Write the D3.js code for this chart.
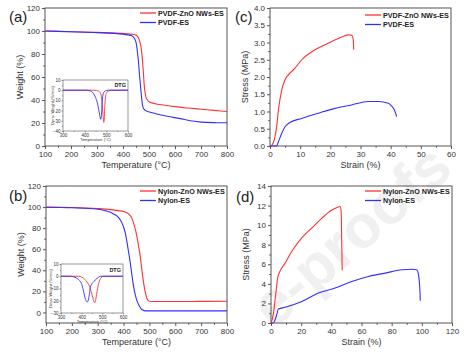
<!DOCTYPE html>
<html>
<head>
<meta charset="utf-8">
<script src="https://cdn.jsdelivr.net/npm/d3@7"></script>
<style>
  body { margin: 0; background: #fff; }
  svg { font-family: "Liberation Sans", Arial, sans-serif; }
</style>
</head>
<body>
<div id="chart"></div>
<script>
// (a) TGA of PVDF mats: [temperature °C, weight %]
var tgaPvdfZnO = [[100,100],[200,99.4],[300,98.8],[400,97.9],[430,97.3],[447,96.8],[455,95.5],[460,93.8],[465,90.5],[469,86.5],[473,79],[476,71],[479,62],[481,54.5],[484,48],[488,42.8],[494,40],[500,38.5],[520,37],[560,35.5],[600,34.2],[650,33],[700,32],[750,31],[800,30]];
var tgaPvdf = [[100,100],[200,99.3],[300,98.6],[400,97.3],[420,96.6],[434,95.8],[447,92.3],[452,88],[456,80.7],[460,72],[463,63],[467,53],[470,45.7],[473,39],[476,34.5],[480,32.3],[485,31],[495,30],[505,29.4],[530,27.8],[570,25.8],[620,23.8],[660,22],[700,20.8],[750,20.3],[800,20.2]];
// (a) inset DTG: [temperature °C, deriv. weight %/min]
var dtgPvdfZnO = [[300,0],[440,0],[455,-0.3],[465,-1],[472,-2.5],[477,-6],[481,-14],[485,-25],[488,-31.5],[490,-30],[492,-20],[495,-9],[500,-3],[510,-0.8],[525,0],[600,0]];
var dtgPvdf = [[300,0],[410,0],[420,-0.3],[430,-1],[440,-3],[450,-7],[458,-12],[465,-19],[470,-25],[474,-28.5],[477,-26],[480,-14],[484,-5],[490,-1.5],[500,-0.3],[510,0],[600,0]];

// (b) TGA of Nylon mats
var tgaNylonZnO = [[100,100],[200,99.6],[300,98.6],[350,97.6],[380,96.6],[400,95.8],[420,93.5],[432,89.5],[442,82],[451,73],[458,63],[464,54],[470,42],[477,29],[484,19],[490,13.5],[497,11],[505,10.4],[600,10.4],[700,10.5],[800,10.6]];
var tgaNylon = [[100,99.8],[200,99.3],[300,98],[330,96.5],[350,95],[361,93.5],[375,91.5],[387,88],[397,83],[406,76],[413,67],[419,58],[426,47],[432,36],[438,26],[445,17],[452,11],[460,6.5],[468,3.5],[476,2],[483,1.5],[600,1.5],[800,1.5]];
// (b) inset DTG
var dtgNylonZnO = [[300,0],[385,0],[400,-0.6],[415,-2.5],[426,-4.7],[435,-7],[442,-10],[450,-15],[455,-18],[460,-21],[464,-21.5],[468,-19],[472,-15],[477,-10],[482,-6],[488,-3],[494,-1.2],[506,0],[600,0]];
var dtgNylon = [[300,0],[345,0],[360,-0.4],[375,-1.5],[390,-3.5],[402,-7.4],[410,-13],[416,-17.5],[422,-20],[428,-21],[432,-19.5],[437,-15],[442,-9],[448,-6.5],[458,-4.5],[466,-3],[474,-1.8],[482,-0.7],[492,0],[600,0]];

// (c) stress-strain PVDF: [strain %, stress MPa]
var ssPvdfZnO = [[0,0],[0.55,0.02],[1.4,0.17],[2.2,0.56],[2.8,1.05],[3.9,1.63],[5,1.92],[7.2,2.16],[8.3,2.26],[10.5,2.5],[14.9,2.79],[19.3,2.98],[23.8,3.16],[26,3.22],[27.1,3.21],[27.6,3.08],[27.75,2.79]];
var ssPvdf = [[0,0],[2.2,0],[2.8,0.13],[3.9,0.37],[5,0.56],[6.6,0.68],[10.5,0.8],[16,0.95],[21.5,1.09],[27,1.19],[32.6,1.29],[35.9,1.29],[39.2,1.24],[40.3,1.16],[41.2,1.05],[42,0.85]];

// (d) stress-strain Nylon
var ssNylonZnO = [[0,0],[1.5,0.85],[3.1,2.9],[4.4,4.6],[6,5.3],[9.3,6.1],[13.7,7.3],[20.4,8.7],[27,9.7],[33.6,10.7],[40.3,11.55],[44.7,11.86],[45.8,11.9],[46.5,11.4],[46.9,8.3],[47.2,5.4]];
var ssNylon = [[0,0],[1.5,0],[3.8,0.85],[4.9,1.43],[9.3,1.6],[20.4,2.2],[31.4,3.06],[42.5,3.57],[53.6,4.25],[64.6,4.76],[75.7,5.1],[86.8,5.44],[93.4,5.5],[96.7,5.44],[97.8,4.9],[98.5,3.9],[99,2.28]];

var red = "#ff3030", blue = "#3030ff";

var svg = d3.select("#chart").append("svg")
  .attr("width", 473)
  .attr("height", 354);

// faint watermark behind everything (only its tail is visible in the figure)
svg.append("text")
  .attr("transform", "translate(455,172) rotate(-41)")
  .attr("text-anchor", "end")
  .attr("font-size", 60)
  .attr("font-weight", "bold")
  .attr("fill", "#000")
  .attr("opacity", 0.055)
  .text("e-proofs");

function range(a, b, s) {
  return d3.range(a, b + s / 2, s);
}

// draws one framed plot (main panel or inset)
function drawPlot(p) {
  var x = d3.scaleLinear().domain(p.xDomain).range([p.left, p.right]);
  var y = d3.scaleLinear().domain(p.yDomain).range([p.bottom, p.top]);
  var g = svg.append("g");

  g.append("rect")
    .attr("x", p.left).attr("y", p.top)
    .attr("width", p.right - p.left).attr("height", p.bottom - p.top)
    .attr("fill", p.fill || "none")
    .attr("stroke", "#555")
    .attr("stroke-width", p.frame || 1);

  var fs = p.fontSize;
  var xMinor = g.append("g").attr("transform", `translate(0,${p.bottom})`)
    .call(d3.axisBottom(x).tickValues(p.xMinor).tickSize(p.tick * 0.6).tickFormat(""));
  var yMinor = g.append("g").attr("transform", `translate(${p.left},0)`)
    .call(d3.axisLeft(y).tickValues(p.yMinor).tickSize(p.tick * 0.6).tickFormat(""));
  var xAxis = g.append("g").attr("transform", `translate(0,${p.bottom})`)
    .call(d3.axisBottom(x).tickValues(p.xTicks).tickSize(p.tick).tickPadding(p.pad).tickFormat(p.xFormat || d3.format("d")));
  var yAxis = g.append("g").attr("transform", `translate(${p.left},0)`)
    .call(d3.axisLeft(y).tickValues(p.yTicks).tickSize(p.tick).tickPadding(p.pad).tickFormat(p.yFormat || d3.format("d")));

  [xMinor, yMinor, xAxis, yAxis].forEach(function(a) {
    a.select(".domain").remove();
    a.selectAll("line").attr("stroke", "#555").attr("stroke-width", p.frame || 1);
    a.selectAll("text").attr("font-size", fs).attr("fill", "#333").attr("font-family", null);
  });

  var line = d3.line()
    .x(d => x(d[0]))
    .y(d => y(d[1]))
    .curve(d3.curveMonotoneX);

  p.series.forEach(function(s) {
    g.append("path")
      .datum(s.data)
      .attr("fill", "none")
      .attr("stroke", s.color)
      .attr("stroke-width", p.lineWidth)
      .attr("d", line);
  });

  // axis titles
  g.append("text")
    .attr("x", (p.left + p.right) / 2)
    .attr("y", p.bottom + p.xTitleOffset)
    .attr("text-anchor", "middle")
    .attr("font-size", p.titleSize)
    .attr("fill", "#333")
    .text(p.xTitle);

  g.append("text")
    .attr("transform", `translate(${p.left - p.yTitleOffset},${(p.top + p.bottom) / 2}) rotate(-90)`)
    .attr("text-anchor", "middle")
    .attr("font-size", p.titleSize)
    .attr("fill", "#333")
    .text(p.yTitle);

  return g;
}

function legend(lx, ly, names, colors) {
  names.forEach(function(n, i) {
    var yy = ly + i * 9.5;
    svg.append("line")
      .attr("x1", lx).attr("x2", lx + 16)
      .attr("y1", yy).attr("y2", yy)
      .attr("stroke", colors[i]).attr("stroke-width", 1.3);
    svg.append("text")
      .attr("x", lx + 18).attr("y", yy + 2.7)
      .attr("font-size", 7.2).attr("font-weight", "bold")
      .attr("fill", "#222")
      .text(n);
  });
}

function panelLabel(lx, ly, t) {
  svg.append("text")
    .attr("x", lx).attr("y", ly)
    .attr("font-size", 15)
    .attr("fill", "#222")
    .text(t);
}

var mainStyle = { tick: 3, pad: 2, fontSize: 8, titleSize: 9, lineWidth: 1.1, xTitleOffset: 22, yTitleOffset: 22 };
var insetStyle = { tick: 1.5, pad: 1, fontSize: 4.5, titleSize: 4, lineWidth: 0.9, xTitleOffset: 10, yTitleOffset: 9, frame: 0.6, fill: "#fff" };

// (a)
drawPlot(Object.assign({}, mainStyle, {
  left: 45, right: 227, top: 8, bottom: 146,
  xDomain: [100, 800], yDomain: [0, 120],
  xTicks: range(100, 800, 100), xMinor: range(150, 750, 100),
  yTicks: range(0, 120, 20), yMinor: range(10, 110, 20),
  xTitle: "Temperature (\u00B0C)", yTitle: "Weight (%)",
  series: [{ data: tgaPvdfZnO, color: red }, { data: tgaPvdf, color: blue }]
}));
drawPlot(Object.assign({}, insetStyle, {
  left: 63, right: 128, top: 80, bottom: 131,
  xDomain: [300, 600], yDomain: [-40, 10],
  xTicks: range(300, 600, 100), xMinor: range(350, 550, 100),
  yTicks: range(-40, 10, 10), yMinor: range(-35, 5, 10),
  xTitle: "Temperature (\u00B0C)", yTitle: "Deriv. Weight (%/min)",
  series: [{ data: dtgPvdfZnO, color: red }, { data: dtgPvdf, color: blue }]
}));
svg.append("text").attr("x", 126).attr("y", 87).attr("text-anchor", "end")
  .attr("font-size", 5.5).attr("font-weight", "bold").attr("fill", "#222").text("DTG");
legend(140, 13, ["PVDF-ZnO NWs-ES", "PVDF-ES"], [red, blue]);
panelLabel(9, 22, "(a)");

// (c)
drawPlot(Object.assign({}, mainStyle, {
  left: 270, right: 451, top: 8, bottom: 146,
  xDomain: [0, 60], yDomain: [0, 4],
  xTicks: range(0, 60, 10), xMinor: range(5, 55, 10),
  yTicks: range(0, 4, 0.5), yMinor: range(0.25, 3.75, 0.5),
  yFormat: d3.format(".1f"),
  xTitle: "Strain (%)", yTitle: "Stress (MPa)",
  series: [{ data: ssPvdfZnO, color: red }, { data: ssPvdf, color: blue }]
}));
legend(365, 15, ["PVDF-ZnO NWs-ES", "PVDF-ES"], [red, blue]);
panelLabel(235, 22, "(c)");

// (b)
drawPlot(Object.assign({}, mainStyle, {
  left: 46, right: 227, top: 186, bottom: 323,
  xDomain: [100, 800], yDomain: [-10, 120],
  xTicks: range(100, 800, 100), xMinor: range(150, 750, 100),
  yTicks: range(0, 120, 20), yMinor: range(10, 110, 20),
  xTitle: "Temperature (\u00B0C)", yTitle: "Weight (%)",
  series: [{ data: tgaNylonZnO, color: red }, { data: tgaNylon, color: blue }]
}));
drawPlot(Object.assign({}, insetStyle, {
  left: 61, right: 123, top: 264, bottom: 313,
  xDomain: [300, 600], yDomain: [-30, 10],
  xTicks: range(300, 600, 100), xMinor: range(350, 550, 100),
  yTicks: range(-30, 10, 10), yMinor: range(-25, 5, 10),
  xTitle: "Temperature (\u00B0C)", yTitle: "Deriv. Weight (%/min)",
  series: [{ data: dtgNylonZnO, color: red }, { data: dtgNylon, color: blue }]
}));
svg.append("text").attr("x", 121).attr("y", 272).attr("text-anchor", "end")
  .attr("font-size", 5.5).attr("font-weight", "bold").attr("fill", "#222").text("DTG");
legend(140, 191, ["Nylon-ZnO NWs-ES", "Nylon-ES"], [red, blue]);
panelLabel(9, 201, "(b)");

// (d)
drawPlot(Object.assign({}, mainStyle, {
  left: 271, right: 452, top: 186, bottom: 323,
  xDomain: [0, 120], yDomain: [0, 14],
  xTicks: range(0, 120, 20), xMinor: range(10, 110, 20),
  yTicks: range(0, 14, 2), yMinor: range(1, 13, 2),
  xTitle: "Strain (%)", yTitle: "Stress (MPa)",
  series: [{ data: ssNylonZnO, color: red }, { data: ssNylon, color: blue }]
}));
legend(365, 191, ["Nylon-ZnO NWs-ES", "Nylon-ES"], [red, blue]);
panelLabel(236, 202, "(d)");
</script>
</body>
</html>
